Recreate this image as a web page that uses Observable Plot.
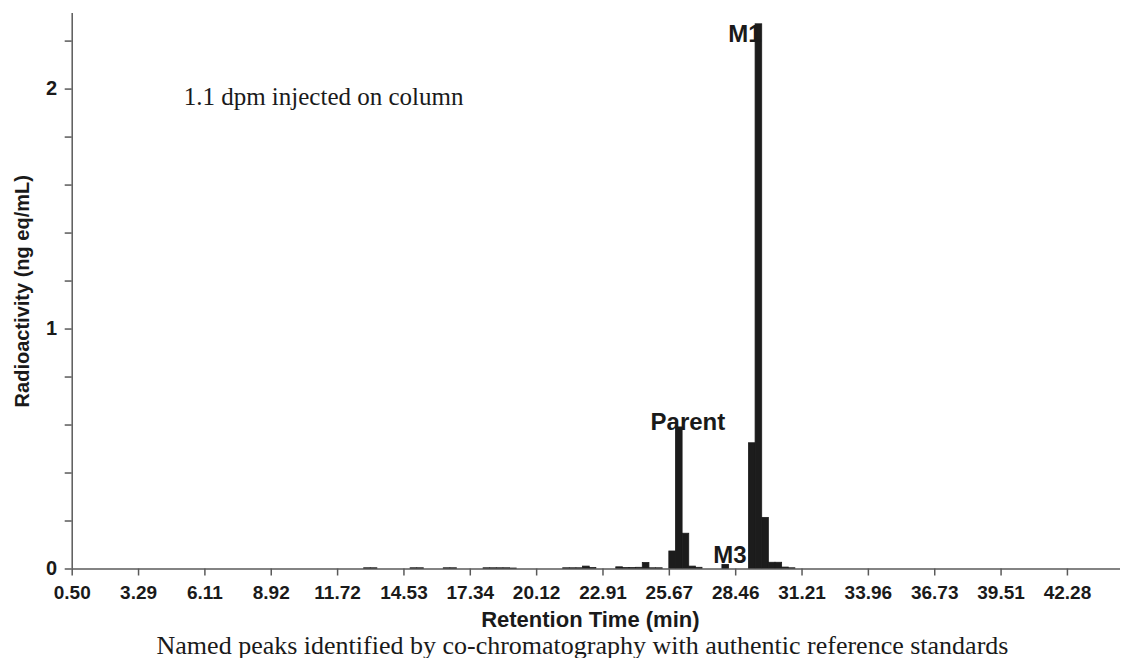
<!DOCTYPE html>
<html>
<head>
<meta charset="utf-8">
<script src="https://cdn.jsdelivr.net/npm/d3@7"></script>
<script src="https://cdn.jsdelivr.net/npm/@observablehq/plot@0.6"></script>
<style>
  html, body { margin: 0; padding: 0; background: #fff; }
  #chart svg { display: block; }
  #caption { width: 1121px; text-align: center; font-family: "Liberation Serif", "Times New Roman", serif; font-size: 26px; line-height: 24px; color: #1a1a1a; margin-left: 22px; margin-top: 0px; position: relative; }
</style>
</head>
<body>
<div id="chart"></div>
<div id="caption">Named peaks identified by co-chromatography with authentic reference standards</div>
<script>
// Fraction (bin) index along the run; each tick label marks every 10th fraction
const tickLabels = ["0.50","3.29","6.11","8.92","11.72","14.53","17.34","20.12","22.91","25.67","28.46","31.21","33.96","36.73","39.51","42.28"];
const fractionCount = 158;

// Non-zero fractions (bin index) and radioactivity (ng eq/mL)
const bins   = [44, 45, 51, 52, 56, 57, 62, 63, 64, 65, 66, 74, 75, 76, 77, 78, 82, 83, 84, 85, 86, 87, 88, 90, 91, 92, 93, 94, 98, 102, 103, 104, 105, 106, 107, 108];
const values = [0.003, 0.003, 0.003, 0.003, 0.003, 0.003, 0.003, 0.003, 0.003, 0.003, 0.002, 0.003, 0.003, 0.003, 0.010, 0.004, 0.007, 0.004, 0.004, 0.005, 0.025, 0.003, 0.003, 0.073, 0.590, 0.147, 0.010, 0.005, 0.017, 0.524, 2.270, 0.213, 0.026, 0.026, 0.006, 0.003];

// Peak names and label anchors (data units)
const peakNames = ["Parent", "M3", "M1"];
const peakLabelX = [92.8, 99.15, 101.4];
const peakLabelY = [0.6125, 0.057, 2.23];

const note = "1.1 dpm injected on column";
const noteX = 16.8, noteY = 1.965;

const yTicks = [0, 0.2, 0.4, 0.6, 0.8, 1.0, 1.2, 1.4, 1.6, 1.8, 2.0, 2.2];

const data = bins.map((b, i) => ({bin: b, value: values[i]}));
const peaks = peakNames.map((n, i) => ({name: n, x: peakLabelX[i], y: peakLabelY[i]}));

const chart = Plot.plot({
  width: 1121,
  height: 634,
  marginLeft: 71.7,
  marginRight: 1,
  marginTop: 13,
  marginBottom: 65.5,
  style: {fontFamily: "'Liberation Sans', Arial, sans-serif", fontSize: "19px", fontWeight: "bold", color: "#1a1a1a", background: "#fff"},
  x: {domain: [0, fractionCount], axis: null},
  y: {domain: [0, 2.315], axis: null},
  marks: [
    Plot.rectY(data, {x1: "bin", x2: d => d.bin + 1, y: "value", fill: "#1c1c1c", stroke: "#1c1c1c", strokeWidth: 0.8}),
    Plot.ruleY([0], {stroke: "#5a5a5a", strokeWidth: 1.5}),
    Plot.ruleX([0], {stroke: "#5a5a5a", strokeWidth: 1.5}),
    Plot.axisX({
      ticks: tickLabels.map((_, i) => i * 10),
      tickFormat: d => tickLabels[Math.round(d / 10)],
      tickSize: 7, tickPadding: 9, stroke: "#5a5a5a", fill: "#1a1a1a", strokeWidth: 1.5,
      label: null, fontSize: 19, fontWeight: "bold"
    }),
    Plot.axisY({
      ticks: yTicks,
      tickFormat: d => Math.abs(d - Math.round(d)) < 1e-6 ? String(Math.round(d)) : "",
      tickSize: 7, tickPadding: 8, stroke: "#5a5a5a", fill: "#1a1a1a", strokeWidth: 1.5,
      label: null, fontSize: 20, fontWeight: "bold"
    }),
    Plot.text(["Retention Time (min)"], {frameAnchor: "bottom", dx: -6, dy: 58, fontSize: 22, fontWeight: "bold", fill: "#1a1a1a"}),
    Plot.text(["Radioactivity (ng eq/mL)"], {frameAnchor: "left", textAnchor: "middle", dx: -50, rotate: -90, fontSize: 20, fontWeight: "bold", fill: "#1a1a1a"}),
    Plot.text(peaks, {x: "x", y: "y", text: "name", fontSize: 24, fontWeight: "bold", fill: "#1a1a1a"}),
    Plot.text([note], {x: noteX, y: noteY, textAnchor: "start", fontFamily: "'Liberation Serif', 'Times New Roman', serif", fontSize: 25, fontWeight: "normal", fill: "#1a1a1a"})
  ]
});
document.getElementById("chart").appendChild(chart);
</script>
</body>
</html>
